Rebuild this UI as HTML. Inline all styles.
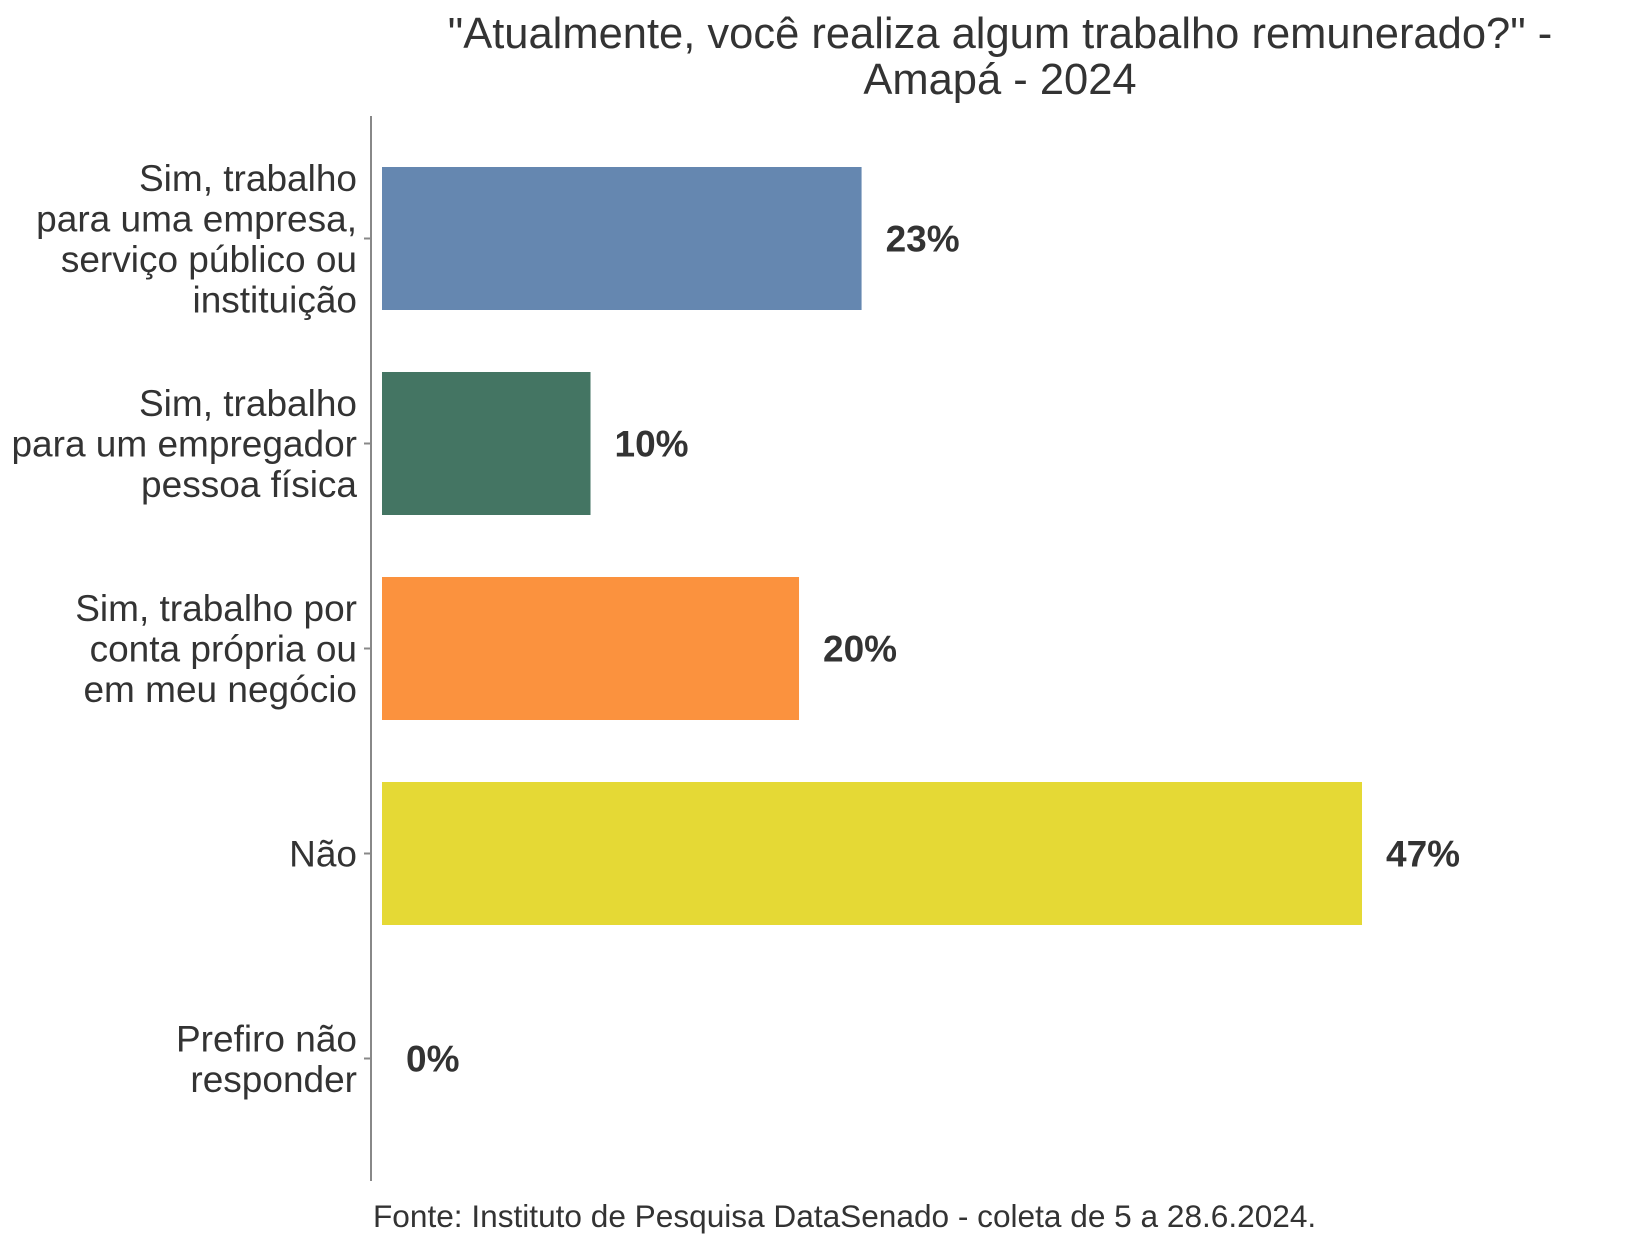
<!DOCTYPE html>
<html><head><meta charset="utf-8"><style>
html,body{margin:0;padding:0;background:#fff;}
svg{display:block;}
text{font-family:"Liberation Sans",sans-serif;fill:#333;}
</style></head><body>
<svg id="chart" width="1632" height="1248" viewBox="0 0 1632 1248" xmlns="http://www.w3.org/2000/svg">
<text x="1000" y="48" font-size="43.5" text-anchor="middle">"Atualmente, você realiza algum trabalho remunerado?" -</text>
<text x="1000" y="94" font-size="43.5" text-anchor="middle">Amapá - 2024</text>
<line x1="371" y1="116" x2="371" y2="1181" stroke="#888" stroke-width="2"/>
<g id="bars"></g>
<text x="373" y="1227" font-size="31.6">Fonte: Instituto de Pesquisa DataSenado - coleta de 5 a 28.6.2024.</text>
</svg>
<script>
const categories = [
  ["Sim, trabalho","para uma empresa,","serviço público ou","instituição"],
  ["Sim, trabalho","para um empregador","pessoa física"],
  ["Sim, trabalho por","conta própria ou","em meu negócio"],
  ["Não"],
  ["Prefiro não","responder"]
];
const values = [23, 10, 20, 47, 0];
const valueLabels = ["23%", "10%", "20%", "47%", "0%"];
const colors = ["#6587b0", "#447563", "#fb923e", "#e5d935", "#999999"];

const NS = "http://www.w3.org/2000/svg";
const x0 = 382, pxPer = (1362 - 382) / 47;
function xScale(v){ return x0 + v * pxPer; }
function yCenter(i){ return 238.5 + i * 205; }
const barH = 143;
const g = document.getElementById('bars');
values.forEach((v, i) => {
  const cy = yCenter(i);
  if (v > 0) {
    const r = document.createElementNS(NS, 'rect');
    
    
    r.setAttribute('x', x0);
    r.setAttribute('y', cy - barH / 2);
    r.setAttribute('width', xScale(v) - x0);
    r.setAttribute('height', barH);
    r.setAttribute('fill', colors[i]);
    g.appendChild(r);
  }
  const t = document.createElementNS(NS, 'text');
  
  
  t.setAttribute('x', xScale(v) + 24);
  t.setAttribute('y', cy + 13);
  t.setAttribute('font-size', '37');
  t.setAttribute('font-weight', 'bold');
  t.textContent = valueLabels[i];
  g.appendChild(t);
  const tick = document.createElementNS(NS, 'line');
  
  
  tick.setAttribute('x1', 364); tick.setAttribute('x2', 371);
  tick.setAttribute('y1', cy); tick.setAttribute('y2', cy);
  tick.setAttribute('stroke', '#888'); tick.setAttribute('stroke-width', '2');
  g.appendChild(tick);
  const lines = categories[i];
  lines.forEach((ln, j) => {
    const c = document.createElementNS(NS, 'text');
    
    
    c.setAttribute('x', 357);
    c.setAttribute('y', cy + 13 + (j - (lines.length - 1) / 2) * 40.5);
    c.setAttribute('font-size', '37');
    c.setAttribute('text-anchor', 'end');
    c.textContent = ln;
    g.appendChild(c);
  });
});
</script>
</body></html>
